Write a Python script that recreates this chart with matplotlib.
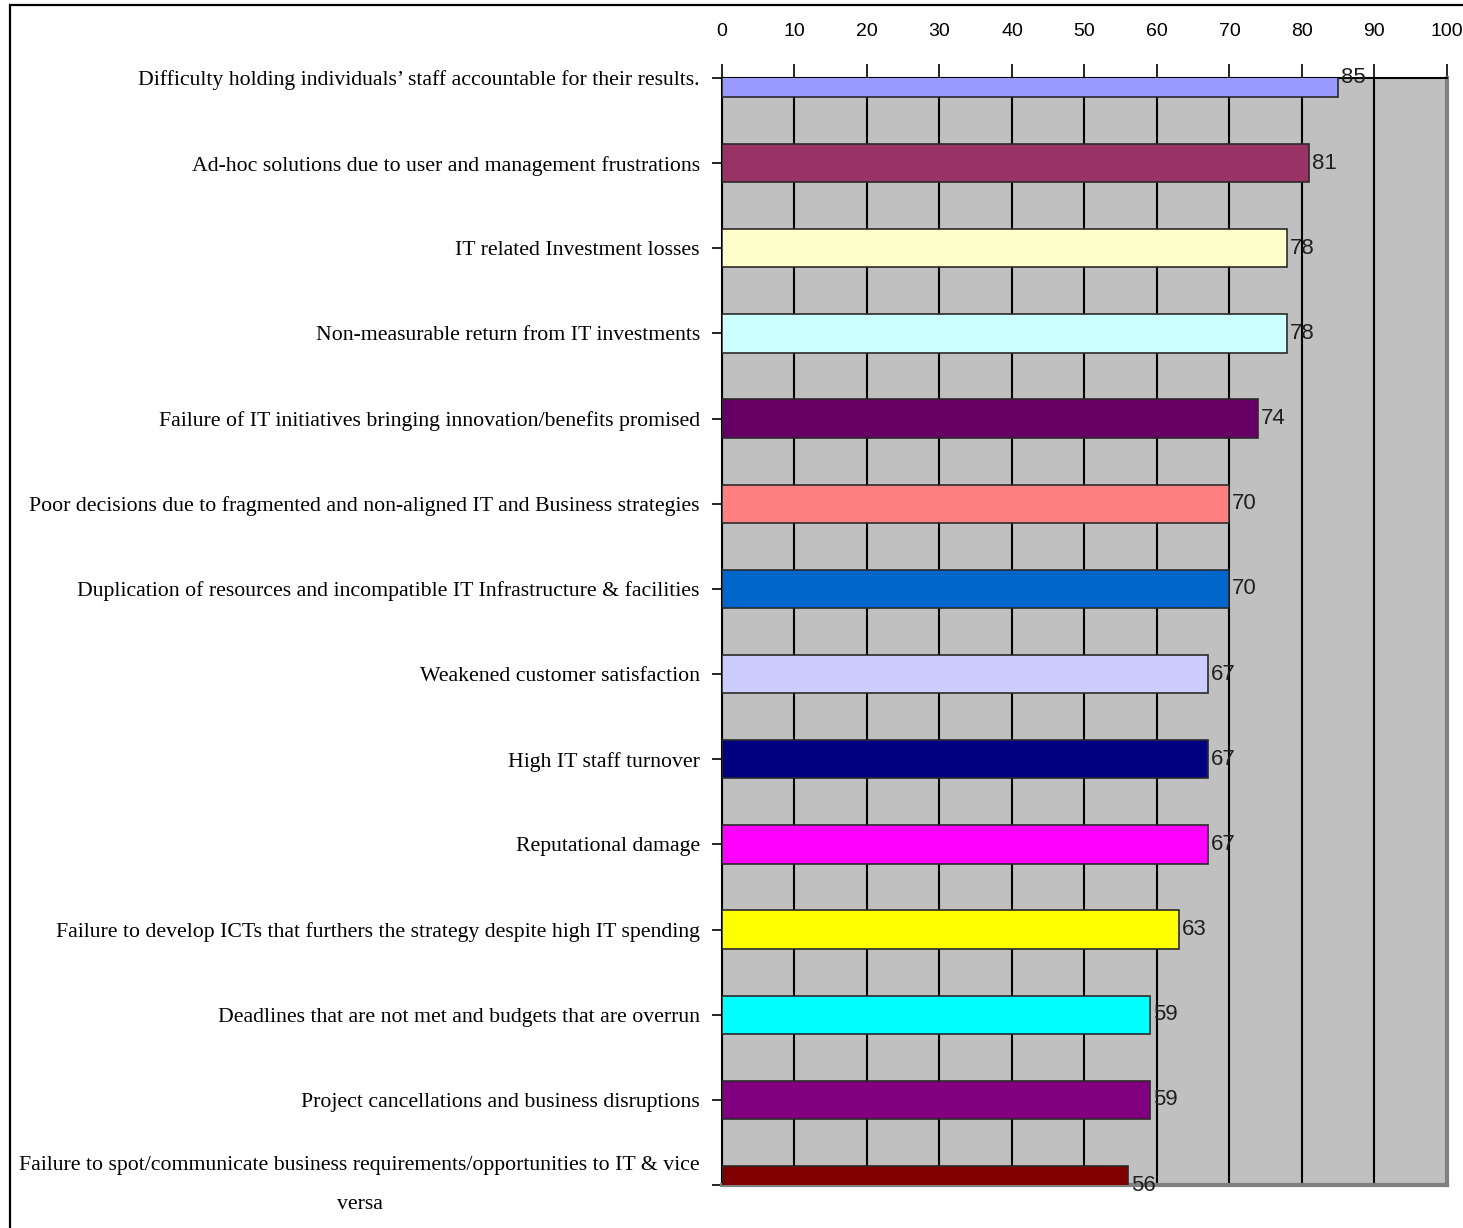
import matplotlib.pyplot as plt
from matplotlib.patches import Rectangle

# survey results: share of respondents (%) naming each consequence
categories = [
    "Difficulty holding individuals\u2019 staff accountable for their results.",
    "Ad-hoc solutions due to user and management frustrations",
    "IT related Investment losses",
    "Non-measurable return from IT investments",
    "Failure of IT initiatives bringing innovation/benefits promised",
    "Poor decisions due to fragmented and non-aligned IT and Business strategies",
    "Duplication of resources and incompatible IT Infrastructure & facilities",
    "Weakened customer satisfaction",
    "High IT staff turnover",
    "Reputational damage",
    "Failure to develop ICTs that furthers the strategy despite high IT spending",
    "Deadlines that are not met and budgets that are overrun",
    "Project cancellations and business disruptions",
    "Failure to spot/communicate business requirements/opportunities to IT & vice\nversa",
]
values = [85, 81, 78, 78, 74, 70, 70, 67, 67, 67, 63, 59, 59, 56]
bar_colors = [
    "#9999FF", "#993366", "#FFFFCC", "#CCFFFF", "#660066", "#FF8080", "#0066CC",
    "#CCCCFF", "#000080", "#FF00FF", "#FFFF00", "#00FFFF", "#800080", "#800000",
]
x_ticks = [0, 10, 20, 30, 40, 50, 60, 70, 80, 90, 100]

num_font = ["Liberation Sans Narrow", "Liberation Sans", "DejaVu Sans"]

fig = plt.figure(figsize=(14.63, 12.28), dpi=100)
fig.patch.set_facecolor("white")

# outer frame around the whole chart
fig.patches.append(Rectangle((0.007, -0.05), 1.2, 0.996 + 0.05, transform=fig.transFigure,
                             fill=False, edgecolor="black", linewidth=1.6))

ax = fig.add_axes([0.4935, 0.035, 0.4955, 0.9015])
ax.set_facecolor("#C0C0C0")

pos = list(range(len(categories)))
ax.barh(pos, values, height=0.45, color=bar_colors, edgecolor="#2a2a2a",
        linewidth=1.2, zorder=3)

for y, v in zip(pos, values):
    ax.text(v + 0.4, y, str(v), va="center", ha="left", fontsize=16,
            family=num_font, color="#202020", zorder=5, clip_on=False)

ax.set_xlim(0, 100)
ax.set_ylim(len(categories) - 1, 0)
ax.set_xticks(x_ticks)
ax.xaxis.tick_top()
ax.tick_params(axis="x", direction="out", length=10, width=1.2, pad=17,
               labelsize=14, colors="black")
for lbl in ax.get_xticklabels():
    lbl.set_family(num_font)

ax.set_yticks(pos)
ax.set_yticklabels(categories, family="Liberation Serif", fontsize=15.7,
                   multialignment="center", linespacing=2.4)
# the wrapped last label sits centred on its tick
ax.get_yticklabels()[-1].set_verticalalignment("center")
ax.tick_params(axis="y", direction="out", length=7, width=1.2, pad=9)

ax.grid(axis="x", color="black", linewidth=1.5, zorder=1)
ax.set_axisbelow(True)

ax.spines["top"].set_color("black")
ax.spines["top"].set_linewidth(1.5)
ax.spines["left"].set_color("black")
ax.spines["left"].set_linewidth(1.5)
ax.spines["right"].set_color("#808080")
ax.spines["right"].set_linewidth(3)
ax.spines["bottom"].set_color("#808080")
ax.spines["bottom"].set_linewidth(3)

fig.savefig("out.png", dpi=100)
